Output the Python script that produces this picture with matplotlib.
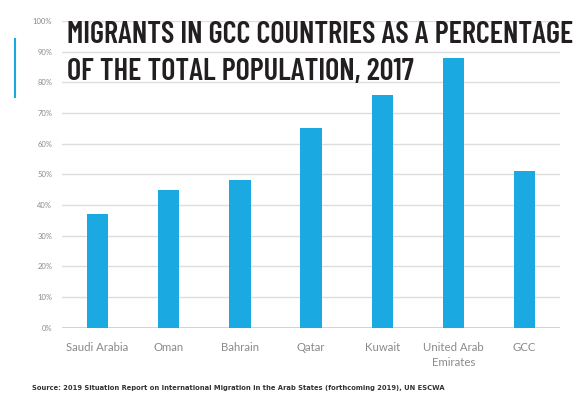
import matplotlib.pyplot as plt
import numpy as np

# Datos
paises = ['Saudi Arabia', 'Oman', 'Bahrain', 'Qatar', 'Kuwait', 'United Arab\nEmirates', 'GCC']
porcentajes = [37, 45, 48, 65, 76, 88, 51]
ticks_y = [0, 10, 20, 30, 40, 50, 60, 70, 80, 90, 100]

titulo_1 = 'MIGRANTS IN GCC COUNTRIES AS A PERCENTAGE'
titulo_2 = 'OF THE TOTAL POPULATION, 2017'
fuente = 'Source: 2019 Situation Report on International Migration in the Arab States (forthcoming 2019), UN ESCWA'

azul = '#1aaae1'
gris = '#8a8a8a'

fig = plt.figure(figsize=(5.83, 3.94), dpi=100)
ax = fig.add_axes([0.106, 0.168, 0.855, 0.779])

x = np.arange(len(paises))
ax.bar(x, porcentajes, width=0.30, color=azul, zorder=2)

ax.set_xlim(-0.5, len(paises) - 0.5)
ax.set_ylim(0, 100)
ax.set_yticks(ticks_y)
ax.set_yticklabels([f'{t}%' for t in ticks_y], fontsize=5.5, color=gris, family='Lato')
ax.set_xticks(x)
ax.set_xticklabels(paises, fontsize=8.2, color=gris, linespacing=1.45, family='Lato')
ax.tick_params(axis='x', length=0, pad=10)
ax.tick_params(axis='y', length=0, pad=7)

ax.grid(axis='y', color='#dddddd', linewidth=1, zorder=0)
ax.axhline(0, color='#c8c8c8', linewidth=1.2, zorder=1)
for s in ax.spines.values():
    s.set_visible(False)

# Titulo en dos lineas, ajustado al ancho del original
estilo = dict(family='Barlow Condensed', fontweight=600, color='#231f20',
              va='baseline', ha='left', fontsize=20)
t1 = fig.text(0.115, 0.891, titulo_1, **estilo)
t2 = fig.text(0.115, 0.797, titulo_2, **estilo)
fig.canvas.draw()
ancho = t1.get_window_extent().width
fs = 20 * 505 / ancho
t1.set_fontsize(fs)
t2.set_fontsize(fs)

# Linea de acento
fig.add_artist(plt.Line2D([0.026, 0.026], [0.755, 0.9], color=azul, linewidth=1.5))

# Fuente
fig.text(0.055, 0.009, fuente, fontsize=4.9, fontweight='bold', color='#333333',
         ha='left', va='baseline')

plt.savefig('out.png', dpi=100)
